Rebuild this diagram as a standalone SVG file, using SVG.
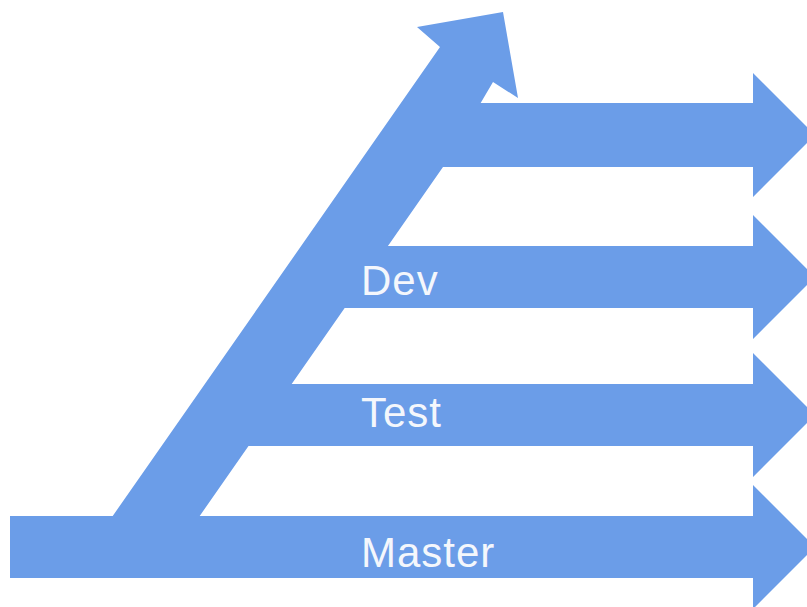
<svg xmlns="http://www.w3.org/2000/svg" width="807" height="607" viewBox="0 0 807 607">
  <style>
    .band { fill: #6b9de8; }
    .label { fill: #f4f7fc; font-family: "Liberation Sans", Arial, sans-serif; font-size: 42px; letter-spacing: 1px; }
  </style>
  <rect width="807" height="607" fill="#ffffff"/>

  <!-- Rising branch arrow that feeds every lane -->
  <g id="connectors">
    <polygon id="rising-arrow" class="band"
             points="112,517 440,47 417,27 503,12 518,98 493,82 443,167 199,517"/>
  </g>

  <!-- Horizontal lanes, top to bottom -->
  <g id="lane-release">
    <polygon class="band" points="420,103 753,103 753,73 815,135 753,197 753,167 420,167"/>
  </g>

  <g id="lane-dev">
    <polygon class="band" points="320,246 753,246 753,215 815,277 753,339 753,308 320,308"/>
    <text class="label" x="361" y="295">Dev</text>
  </g>

  <g id="lane-test">
    <polygon class="band" points="220,384 753,384 753,353 815,415 753,477 753,446 220,446"/>
    <text class="label" x="361" y="427">Test</text>
  </g>

  <g id="lane-master">
    <polygon class="band" points="10,516 753,516 753,485 815,547 753,609 753,578 10,578"/>
    <text class="label" x="361" y="567">Master</text>
  </g>
</svg>
